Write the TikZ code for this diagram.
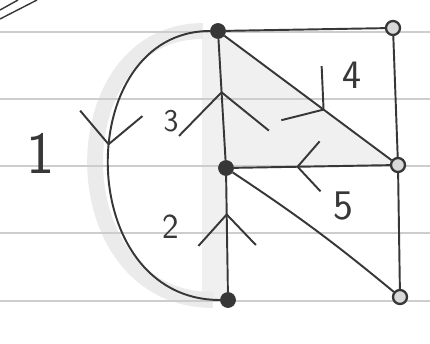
\documentclass[tikz,border=0pt]{standalone}
\usetikzlibrary{arrows.meta,decorations.markings,backgrounds}
\definecolor{pencil}{RGB}{55,55,55}
\definecolor{ruled}{RGB}{205,205,205}
\tikzset{
    dot/.style={circle, fill=pencil, draw=pencil, inner sep=0pt, minimum size=0.3cm},
    ring/.style={circle, draw=pencil, fill=black!15, line width=1.3pt,
                 inner sep=0pt, minimum size=0.28cm},
    edg/.style={draw=pencil, line width=1.1pt},
    chev/.style n args={3}{postaction={decorate}, decoration={markings,
        mark=at position #1 with {\arrow[pencil, line width=1.1pt]{Straight Barb[length=#2, width=#3]}}}},
    lbl/.style={text=pencil, font=\sffamily\fontsize{#1}{#1}\selectfont},
}
\begin{document}
\begin{tikzpicture}
    \useasboundingbox (0,0) rectangle (8.6,6.86);

    \node[dot]  (a) at (4.36,6.24) {};
    \node[ring] (b) at (7.86,6.30) {};
    \node[dot]  (c) at (4.52,3.50) {};
    \node[ring] (d) at (7.96,3.56) {};
    \node[dot]  (e) at (4.56,0.86) {};
    \node[ring] (f) at (8.00,0.92) {};

    % paper, ruled lines and pencil smudges
    \begin{scope}[on background layer]
        \fill[white] (0,0) rectangle (8.6,6.86);
        \fill[black!6] (a.center) -- (d.center) -- (c.center) -- cycle;
        \fill[black!6] ([xshift=-0.32cm]a.center) rectangle ([xshift=-0.04cm]e.center);
        \draw[black!8, line width=9pt] ([xshift=-0.3cm]a.center)
            .. controls (1.15,6.24) and (1.15,0.86) .. ([xshift=-0.3cm]e.center);
        \foreach \y in {6.22,4.88,3.54,2.20,0.84}
            \draw[ruled, line width=0.6pt] (0,\y) -- (8.6,\y);
        \draw[pencil, line width=0.8pt] (0,6.48) -- (0.74,6.86);
        \draw[pencil, line width=0.8pt] (0,6.66) -- (0.36,6.86);
    \end{scope}

    \draw[edg] (a) -- (b);
    \draw[edg] (b) -- (d);
    \draw[edg] (d) -- (f);
    \draw[edg] (c) to[bend left=3] (f);
    \draw[edg, chev={0.44}{0.62cm}{1.25cm}] (a)
        .. controls (1.44,6.24) and (1.44,0.86) .. (e);
    \draw[edg, chev={0.57}{0.82cm}{1.8cm}]  (c) -- (a);
    \draw[edg, chev={0.68}{0.62cm}{1.15cm}] (e) -- (c);
    \draw[edg, chev={0.60}{0.55cm}{1.35cm}] (a) -- (d);
    \draw[edg, chev={0.60}{0.45cm}{1.0cm}]  (d) -- (c);

    \node[lbl=34] (one)   at (0.82,3.80) {1};
    \node[lbl=18] (three) at (3.42,4.44) {3};
    \node[lbl=20] (two)   at (3.42,2.32) {2};
    \node[lbl=23] (four)  at (7.04,5.36) {4};
    \node[lbl=24] (five)  at (6.86,2.74) {5};
\end{tikzpicture}
\end{document}
